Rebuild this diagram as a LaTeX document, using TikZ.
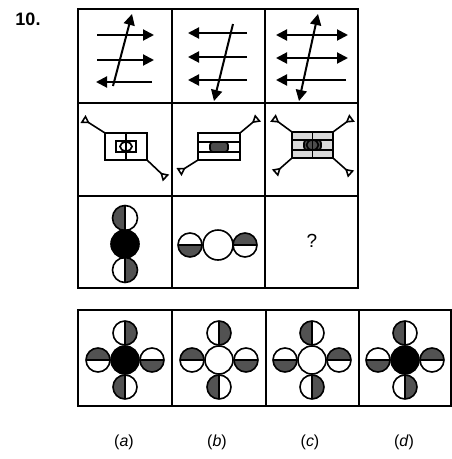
\documentclass[tikz,border=0pt]{standalone}
\usepackage{fontspec}
\setmainfont{Liberation Sans}
\usetikzlibrary{arrows.meta}

% half shaded ball: centre, radius, start angle of the shaded half
\newcommand{\halfball}[3]{%
  \fill[ballshade] (#1) ++(#3:#2) arc[start angle=#3, delta angle=180, radius=#2] -- cycle;
  \draw[ball] (#1) circle[radius=#2];
  \draw[ball] (#1) ++(#3:#2) -- ++({#3+180}:{2*#2});
}
% one answer figure: x of centre, fill of middle ball, angles top/left/right/bottom
\newcommand{\flower}[6]{%
  \halfball{#1,333}{12}{#3}
  \halfball{#1-27,360}{12}{#4}
  \halfball{#1+27,360}{12}{#5}
  \halfball{#1,387}{12}{#6}
  \filldraw[ball, fill=#2] (#1,360) circle[radius=14];
}

\begin{document}
\begin{tikzpicture}[
    x=1pt, y=-1pt,
    frame/.style={line width=1.8pt},
    arr/.style={line width=2pt, -{Triangle[length=11pt,width=11pt]}},
    arrs/.style={line width=2pt, {Triangle[length=11pt,width=11pt]}-{Triangle[length=11pt,width=11pt]}},
    tie/.style={line width=1.6pt, -{Triangle[open, reversed, length=8pt, width=9pt]}},
    box/.style={line width=1.7pt},
    ball/.style={line width=1.6pt},
    ballshade/.style={fill=black!68},
    lbl/.style={font=\fontsize{16}{16}\selectfont},
]
\useasboundingbox (0,0) rectangle (452,459);

\node[font=\bfseries\fontsize{18}{18}\selectfont] (qnum) at (28,19) {10.};

% =============================================================================
% Question grid
% =============================================================================
\draw[frame] (78,9) rectangle (358,288);
\foreach \x in {172,265} {
    \draw[frame] (\x,9) -- (\x,288);
}
\foreach \y in {103,196} {
    \draw[frame] (78,\y) -- (358,\y);
}

% --- Row 1: arrows ---
\draw[arr] (97,35) -- (154,35);
\draw[arr] (97,60) -- (154,60);
\draw[arr] (152,82) -- (96,82);
\draw[arr] (113,86) -- (132,14);

\draw[arr] (247,33) -- (188,33);
\draw[arr] (247,57) -- (188,57);
\draw[arr] (247,80) -- (188,80);
\draw[arr] (233,24) -- (214,101);

\draw[arrs] (276,35) -- (348,35);
\draw[arrs] (276,58) -- (348,58);
\draw[arr] (346,80) -- (276,80);
\draw[arrs] (318,14) -- (299,101);

% --- Row 2: boxes with ties ---
\draw[box] (105,133) rectangle (147,160);
\draw[box] (126,133) -- (126,160);
\draw[box] (116,141) rectangle (136,152);
\draw[box] (126,146.5) ellipse[x radius=6, y radius=4.5];
\draw[tie] (105,133) -- (83,119);
\draw[tie] (147,160) -- (166,178);

\draw[box] (198,133) rectangle (240,160);
\draw[box] (198,142) -- (240,142);
\draw[box] (198,152) -- (240,152);
\filldraw[box, fill=black!70, rounded corners=3pt] (210,142) rectangle (228,152);
\draw[tie] (240,133) -- (258,118);
\draw[tie] (198,160) -- (179,172);

\filldraw[box, fill=black!15] (292,132) rectangle (333,158);
\draw[box] (292,140) -- (333,140);
\draw[box] (292,150) -- (333,150);
\filldraw[box, fill=black!70, rounded corners=3pt] (304,140) rectangle (321,150);
\draw[box] (312.5,132) -- (312.5,158);
\draw[box] (312.5,145) ellipse[x radius=6, y radius=5];
\draw[tie] (292,132) -- (273,118);
\draw[tie] (333,132) -- (352,118);
\draw[tie] (292,158) -- (275,173);
\draw[tie] (333,158) -- (351,174);

% --- Row 3: balls ---
\halfball{125,218}{12.5}{90}
\filldraw[ball, fill=black] (125,244) circle[radius=14];
\halfball{125,270}{12.5}{270}

\halfball{190,245}{12}{0}
\draw[ball] (218,245) circle[radius=15];
\halfball{245,245}{12}{180}

\node[font=\fontsize{19}{19}\selectfont] (qmark) at (312,241) {?};

% =============================================================================
% Answer options
% =============================================================================
\draw[frame] (78,310) rectangle (451,406);
\foreach \x in {172,266,359} {
    \draw[frame] (\x,310) -- (\x,406);
}

\flower{125}{black}{270}{180}{0}{90}
\flower{219}{white}{270}{180}{0}{90}
\flower{312}{white}{90}{0}{180}{270}
\flower{405}{black}{90}{0}{180}{270}

\node[lbl] (opta) at (124,442) {(\textit{a})};
\node[lbl] (optb) at (217,442) {(\textit{b})};
\node[lbl] (optc) at (310,442) {(\textit{c})};
\node[lbl] (optd) at (404,442) {(\textit{d})};

\end{tikzpicture}
\end{document}
